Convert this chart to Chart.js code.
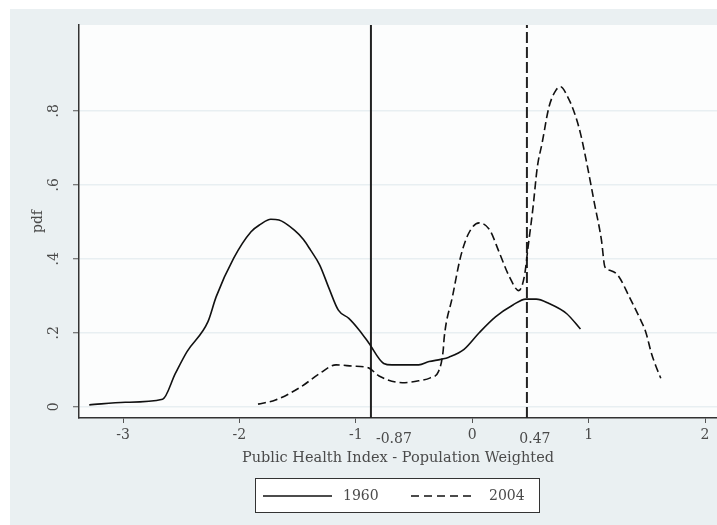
<!DOCTYPE html>
<html>
<head>
<meta charset="utf-8">
<script src="https://cdn.jsdelivr.net/npm/chart.js@4.4.0/dist/chart.umd.min.js"></script>
<style>
    body { margin: 0; background: #ffffff; }
    #wrap { width: 717px; height: 525px; }
</style>
</head>
<body>
<div id="wrap"><canvas id="chart" width="717" height="525"></canvas></div>
<script>
// Kernel density, 1960
const x1960 = [-3.29, -2.98, -2.66, -2.55, -2.45, -2.27, -2.20, -2.05, -1.90, -1.82, -1.73, -1.66, -1.53, -1.45, -1.39, -1.31, -1.23, -1.15, -1.06, -0.97, -0.89, -0.76, -0.69, -0.46, -0.37, -0.27, -0.20, -0.07, 0.06, 0.20, 0.35, 0.46, 0.55, 0.66, 0.81, 0.93];
const y1960 = [0.005, 0.012, 0.020, 0.090, 0.149, 0.230, 0.297, 0.401, 0.473, 0.493, 0.507, 0.505, 0.478, 0.452, 0.424, 0.383, 0.320, 0.261, 0.239, 0.207, 0.173, 0.117, 0.113, 0.113, 0.122, 0.128, 0.134, 0.155, 0.200, 0.243, 0.275, 0.291, 0.291, 0.279, 0.252, 0.210];

// Kernel density, 2004
const x2004 = [-1.84, -1.69, -1.47, -1.31, -1.17, -1.03, -0.89, -0.80, -0.60, -0.46, -0.36, -0.29, -0.25, -0.24, -0.17, -0.10, -0.03, 0.06, 0.15, 0.23, 0.32, 0.40, 0.45, 0.48, 0.52, 0.56, 0.60, 0.66, 0.72, 0.76, 0.82, 0.88, 0.93, 0.99, 1.05, 1.11, 1.14, 1.18, 1.25, 1.35, 1.44, 1.49, 1.54, 1.58, 1.62];
const y2004 = [0.007, 0.018, 0.054, 0.090, 0.113, 0.110, 0.105, 0.083, 0.065, 0.070, 0.078, 0.095, 0.150, 0.189, 0.297, 0.405, 0.469, 0.497, 0.478, 0.419, 0.351, 0.314, 0.356, 0.432, 0.532, 0.649, 0.712, 0.811, 0.856, 0.865, 0.838, 0.793, 0.739, 0.649, 0.550, 0.451, 0.378, 0.369, 0.356, 0.297, 0.239, 0.203, 0.144, 0.108, 0.077];

// Reference lines (means)
const markerValues = [-0.87, 0.47];
const markerLabels = ['-0.87', '0.47'];

// Axes
const xTicks = [-3, -2, -1, 0, 1, 2];
const yTicks = [0, 0.2, 0.4, 0.6, 0.8];
const xRange = [-3.378, 2.103];
const yRange = [-0.0305, 1.032];

const seriesNames = ['1960', '2004'];

const FONT = "'DejaVu Serif', 'Liberation Serif', serif";
const TEXT = '#4a4a4a';
const GRID = '#e8eff2';

function toPoints(xs, ys) {
    return xs.map((x, i) => ({ x: x, y: ys[i] }));
}

function markerLine(v) {
    return [{ x: v, y: yRange[0] }, { x: v, y: yRange[1] }];
}

// Outer panel + plot background
const backgroundPlugin = {
    id: 'stataBackground',
    beforeDraw(chart) {
        const { ctx, chartArea: a } = chart;
        ctx.save();
        ctx.fillStyle = '#ffffff';
        ctx.fillRect(0, 0, chart.width, chart.height);
        ctx.fillStyle = '#eaf0f2';
        ctx.fillRect(10, 9, chart.width - 10, chart.height - 9);
        ctx.fillStyle = '#fcfdfd';
        ctx.fillRect(a.left, a.top, a.right - a.left, a.bottom - a.top);
        ctx.restore();
    }
};

// Labels for the two reference lines, under the x axis
const markerLabelPlugin = {
    id: 'markerLabels',
    afterDraw(chart) {
        const { ctx, scales } = chart;
        const shifts = [23, 8];
        ctx.save();
        ctx.font = '14px ' + FONT;
        ctx.fillStyle = TEXT;
        ctx.textAlign = 'center';
        ctx.textBaseline = 'middle';
        markerValues.forEach((v, i) => {
            const px = scales.x.getPixelForValue(v);
            ctx.fillText(markerLabels[i], px + shifts[i], scales.x.top + 21);
        });
        ctx.restore();
    }
};

// Boxed legend below the chart
const legendPlugin = {
    id: 'boxLegend',
    afterDraw(chart) {
        const { ctx } = chart;
        ctx.save();
        ctx.fillStyle = '#ffffff';
        ctx.fillRect(255, 478, 284, 34);
        ctx.strokeStyle = '#333333';
        ctx.lineWidth = 1;
        ctx.strokeRect(255.5, 478.5, 284, 34);

        ctx.strokeStyle = '#111111';
        ctx.lineWidth = 1.5;
        ctx.beginPath();
        ctx.moveTo(263, 496);
        ctx.lineTo(332, 496);
        ctx.stroke();

        ctx.setLineDash([8, 5]);
        ctx.beginPath();
        ctx.moveTo(411, 496);
        ctx.lineTo(474, 496);
        ctx.stroke();
        ctx.setLineDash([]);

        ctx.font = '14px ' + FONT;
        ctx.fillStyle = TEXT;
        ctx.textAlign = 'left';
        ctx.textBaseline = 'middle';
        ctx.fillText(seriesNames[0], 343, 496);
        ctx.fillText(seriesNames[1], 489, 496);
        ctx.restore();
    }
};

const ctx = document.getElementById('chart');

new Chart(ctx, {
    type: 'scatter',
    data: {
        datasets: [
            {
                label: seriesNames[0],
                data: toPoints(x1960, y1960),
                showLine: true,
                borderColor: '#111111',
                borderWidth: 1.6,
                pointRadius: 0,
                cubicInterpolationMode: 'monotone'
            },
            {
                label: seriesNames[1],
                data: toPoints(x2004, y2004),
                showLine: true,
                borderColor: '#111111',
                borderWidth: 1.6,
                borderDash: [8, 4],
                pointRadius: 0,
                cubicInterpolationMode: 'monotone'
            },
            {
                label: 'mean 1960',
                data: markerLine(markerValues[0]),
                showLine: true,
                borderColor: '#222222',
                borderWidth: 2,
                pointRadius: 0
            },
            {
                label: 'mean 2004',
                data: markerLine(markerValues[1]),
                showLine: true,
                borderColor: '#222222',
                borderWidth: 2,
                borderDash: [11, 4],
                pointRadius: 0
            }
        ]
    },
    options: {
        responsive: false,
        animation: false,
        layout: {
            padding: { left: 0, top: 25, right: 0, bottom: 0 }
        },
        plugins: {
            legend: { display: false },
            tooltip: { enabled: false }
        },
        scales: {
            x: {
                type: 'linear',
                min: xRange[0],
                max: xRange[1],
                afterBuildTicks: (scale) => {
                    scale.ticks = xTicks.map(v => ({ value: v }));
                },
                afterFit: (scale) => {
                    scale.height = 107;
                },
                ticks: {
                    color: TEXT,
                    font: { family: FONT, size: 14 },
                    padding: 4,
                    maxRotation: 0,
                    callback: (v) => String(v)
                },
                grid: {
                    drawOnChartArea: false,
                    tickLength: 5,
                    tickColor: '#555555',
                    tickWidth: 1
                },
                border: { color: '#333333', width: 1.5 },
                title: {
                    display: true,
                    text: 'Public Health Index - Population Weighted',
                    color: TEXT,
                    font: { family: FONT, size: 14.5 },
                    padding: { top: 0, bottom: 58 }
                }
            },
            y: {
                type: 'linear',
                min: yRange[0],
                max: yRange[1],
                afterBuildTicks: (scale) => {
                    scale.ticks = yTicks.map(v => ({ value: v }));
                },
                afterFit: (scale) => {
                    scale.width = 79;
                },
                ticks: {
                    color: TEXT,
                    font: { family: FONT, size: 14 },
                    minRotation: 90,
                    maxRotation: 90,
                    crossAlign: 'center',
                    padding: 12,
                    callback: (v) => v === 0 ? '0' : String(+v.toFixed(1)).replace('0.', '.')
                },
                grid: {
                    color: GRID,
                    lineWidth: 1.5,
                    tickLength: 6,
                    tickColor: '#555555',
                    tickWidth: 1
                },
                border: { color: '#333333', width: 1.5 },
                title: {
                    display: true,
                    text: 'pdf',
                    color: TEXT,
                    font: { family: FONT, size: 14 },
                    padding: { top: 30, bottom: 0 }
                }
            }
        }
    },
    plugins: [backgroundPlugin, markerLabelPlugin, legendPlugin]
});
</script>
</body>
</html>
